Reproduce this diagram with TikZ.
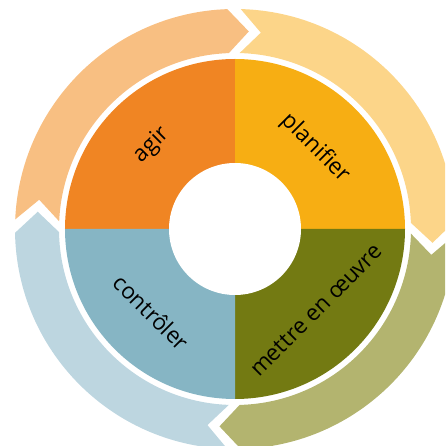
\documentclass[tikz,border=0pt]{standalone}
\usepackage{fontspec}
\setmainfont{Open Sans}
\definecolor{agirDark}{HTML}{F08523}
\definecolor{agirLight}{HTML}{F8BF82}
\definecolor{planDark}{HTML}{F7AE13}
\definecolor{planLight}{HTML}{FCD589}
\definecolor{mettreDark}{HTML}{737A12}
\definecolor{mettreLight}{HTML}{B3B46F}
\definecolor{ctrlDark}{HTML}{86B5C4}
\definecolor{ctrlLight}{HTML}{BDD6E0}
\begin{document}
\begin{tikzpicture}[label/.style={font=\fontsize{22.5}{26}\selectfont,text=black,inner sep=0pt}]
	
	\useasboundingbox (-235pt,-217pt) rectangle (210pt,229pt);
	\clip (-235pt,-217pt) rectangle (210pt,229pt);
	
	\foreach \t/\h/\col in {177.5/92/agirLight,88.5/2/planLight,-1.5/-88.5/mettreLight,-92/-179/ctrlLight}
		\fill[\col] (\t:220pt) arc[start angle=\t,end angle=\h,radius=220pt] -- (\h-6:198pt) -- (\h:176pt)
			arc[start angle=\h,end angle=\t,radius=176pt] -- (\t-6:198pt) -- cycle;
	
	\fill[agirDark] (0,0) -- (180:170pt) arc[start angle=180,end angle=90,radius=170pt] -- cycle;
	\fill[planDark] (0,0) -- (90:170pt) arc[start angle=90,end angle=0,radius=170pt] -- cycle;
	\fill[mettreDark] (0,0) -- (0:170pt) arc[start angle=0,end angle=-90,radius=170pt] -- cycle;
	\fill[ctrlDark] (0,0) -- (-90:170pt) arc[start angle=-90,end angle=-180,radius=170pt] -- cycle;
	\fill[white] (0,0) circle (66pt);
	
	\node[label,rotate=45] (agir) at (135:118pt) {agir};
	\node[label,rotate=-45] (planifier) at (45:114pt) {planifier};
	\node[label,rotate=45] (mettre) at (-45:115pt) {mettre en œuvre};
	\node[label,rotate=-45] (controler) at (225:118pt) {contrôler};
\end{tikzpicture}
\end{document}
